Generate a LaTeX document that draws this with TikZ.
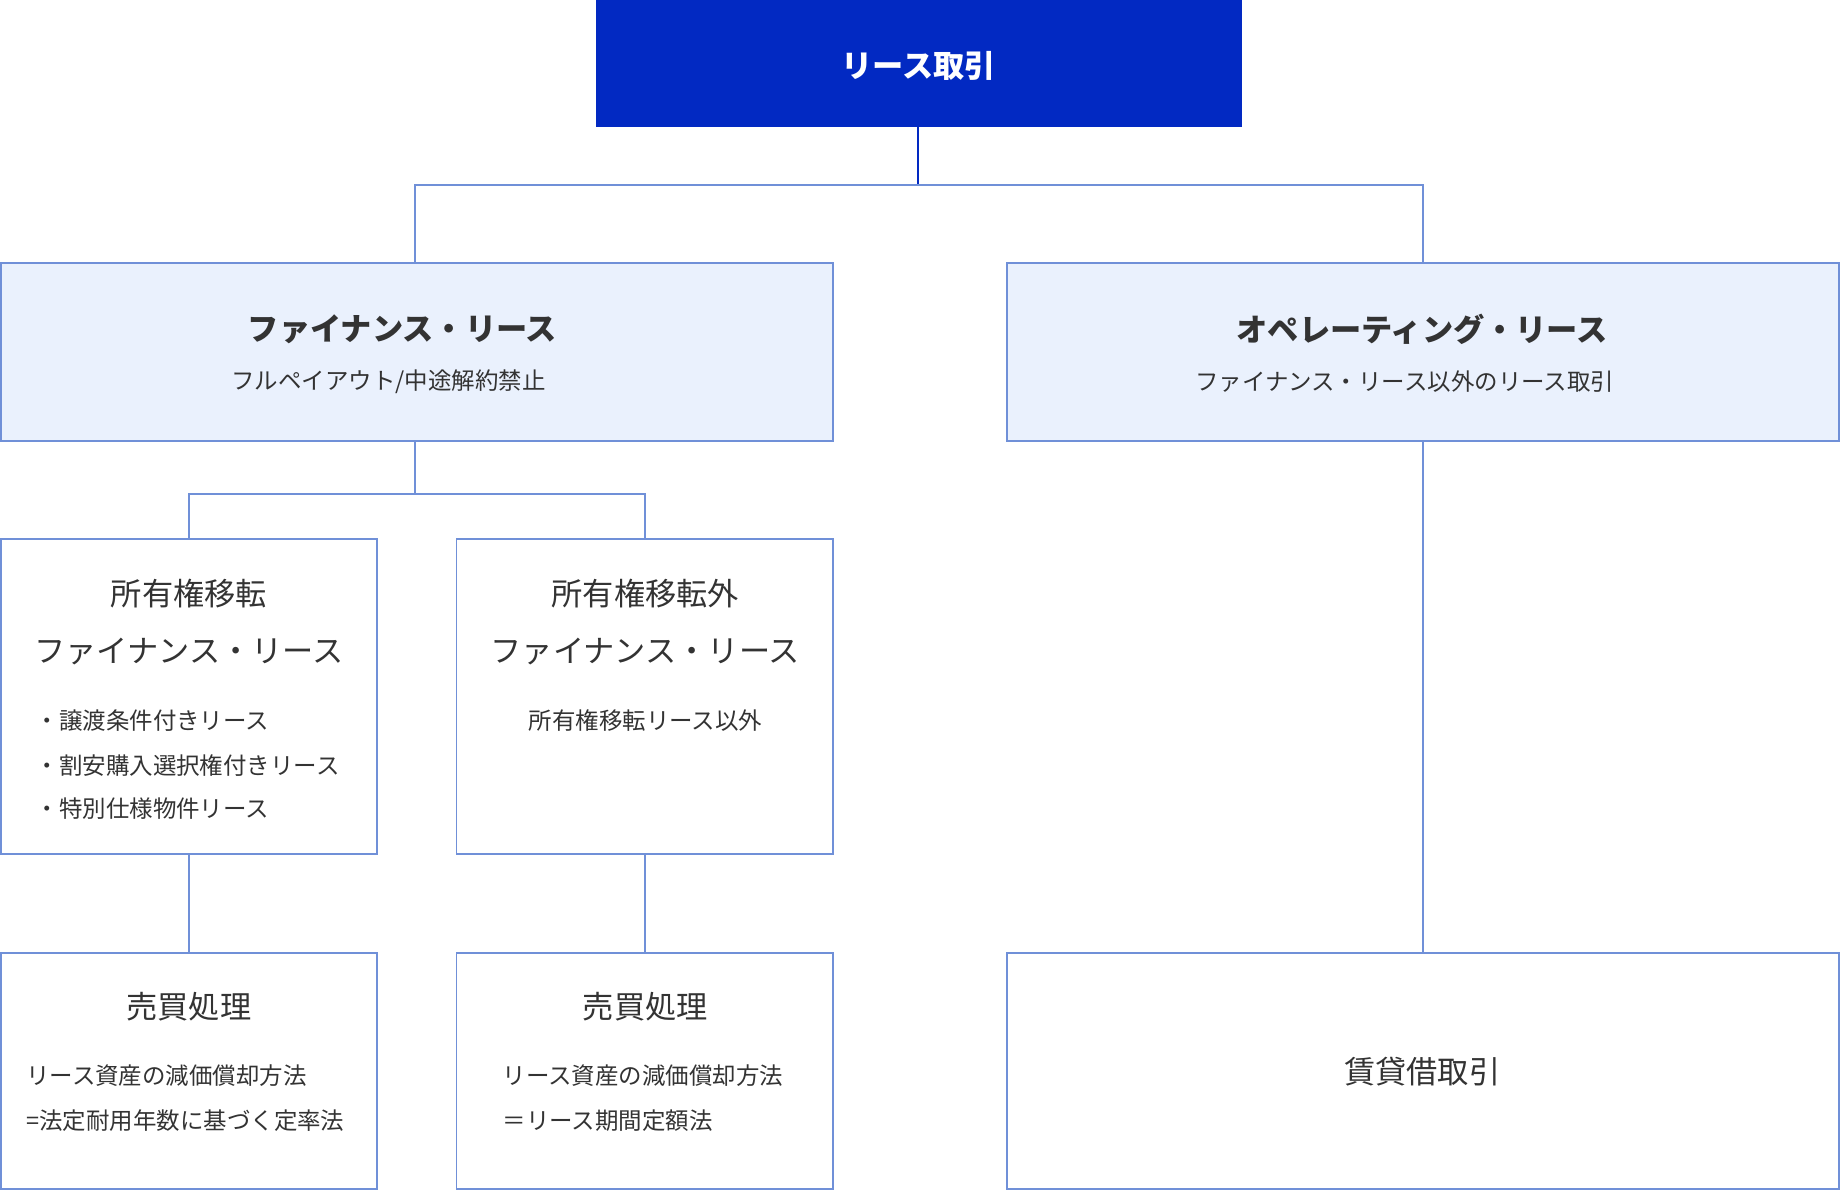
\documentclass[tikz,border=0pt]{standalone}
\usepackage{fontspec}
\setmainfont{Noto Sans CJK JP}
\begin{document}
\begin{tikzpicture}[x=0.5pt,y=-0.5pt,
  bx/.style={draw=lineblue,line width=0.8pt},
  ln/.style={draw=lineblue,line width=0.8pt},
  big/.style={font=\fontsize{13.3}{16}\selectfont,text=tx,inner sep=0},
  sml/.style={font=\fontsize{10}{12}\selectfont,text=tx,inner sep=0},
  bigb/.style={big,font=\fontsize{13.3}{16}\selectfont\bfseries}]
\definecolor{lineblue}{HTML}{7090D8}
\definecolor{topblue}{HTML}{0229C2}
\definecolor{lightb}{HTML}{EAF1FD}
\definecolor{tx}{HTML}{333333}
\useasboundingbox (0,0) rectangle (1568,1015);
% boxes
\fill[topblue] (508,0) rectangle (1058,108);
\node[bigb,text=white] (top) at (783,56) {リース取引};
\coordinate (topb) at (782,108);
\draw[bx,fill=lightb] (1,224) rectangle (710,376);
\node (fin) at (355,300) {};
\node[bigb] (fint) at (343,281) {ファイナンス・リース};
\node[sml] (fins) at (331,325) {フルペイアウト/中途解約禁止};
\draw[bx,fill=lightb] (858,224) rectangle (1567,376);
\node[bigb] (opt) at (1212,281) {オペレーティング・リース};
\node[sml] (ops) at (1197,325) {ファイナンス・リース以外のリース取引};
\draw[bx] (1,459) rectangle (321,728);
\node[big] (a1) at (161,506) {所有権移転};
\node[big] (a2) at (161,555) {ファイナンス・リース};
\node[sml,anchor=west] (a3) at (30,614) {・譲渡条件付きリース};
\node[sml,anchor=west] (a4) at (30,652) {・割安購入選択権付きリース};
\node[sml,anchor=west] (a5) at (30,689) {・特別仕様物件リース};
\draw[bx] (389,459) rectangle (710,728);
\node[big] (b1) at (550,506) {所有権移転外};
\node[big] (b2) at (550,555) {ファイナンス・リース};
\node[sml] (b3) at (550,614) {所有権移転リース以外};
\draw[bx] (1,812) rectangle (321,1013);
\node[big] (c1) at (161,858) {売買処理};
\node[sml,anchor=west] (c2) at (22,917) {リース資産の減価償却方法};
\node[sml,anchor=west] (c3) at (22,955) {=法定耐用年数に基づく定率法};
\draw[bx] (389,812) rectangle (710,1013);
\node[big] (d1) at (550,858) {売買処理};
\node[sml,anchor=west] (d2) at (428,917) {リース資産の減価償却方法};
\node[sml,anchor=west] (d3) at (428,955) {＝リース期間定額法};
\draw[bx] (858,812) rectangle (1567,1013);
\node[big] (e1) at (1212,913) {賃貸借取引};
% connectors
\draw[ln,draw=topblue] (782,108) -- (782,158);
\draw[ln] (354,224) -- (354,158) -- (1213,158) -- (1213,224);
\draw[ln] (354,376) -- (354,421);
\draw[ln] (161,459) -- (161,421) -- (550,421) -- (550,459);
\draw[ln] (161,728) -- (161,812);
\draw[ln] (550,728) -- (550,812);
\draw[ln] (1213,376) -- (1213,812);
\end{tikzpicture}
\end{document}
